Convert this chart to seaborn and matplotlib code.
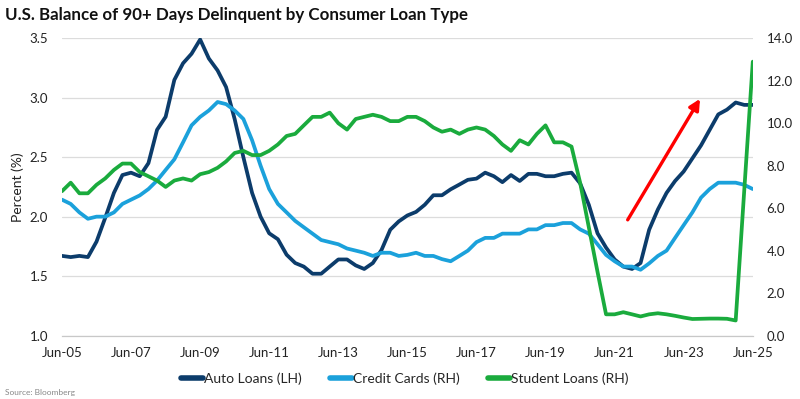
import pandas as pd
import matplotlib.pyplot as plt
import matplotlib.dates as mdates
from matplotlib.lines import Line2D
import seaborn as sns

# 90+ days delinquent balance, quarterly from Jun-05
# auto loans on the left scale, cards and student loans on the right scale
auto_loans = [1.67, 1.66, 1.67, 1.66, 1.79, 1.99, 2.20, 2.35, 2.37, 2.34,
              2.45, 2.73, 2.84, 3.15, 3.29, 3.37, 3.49, 3.33, 3.23, 3.09,
              2.82, 2.50, 2.20, 2.00, 1.86, 1.81, 1.68, 1.61, 1.58, 1.52,
              1.52, 1.58, 1.64, 1.64, 1.59, 1.56, 1.61, 1.72, 1.89, 1.96,
              2.01, 2.04, 2.10, 2.18, 2.18, 2.23, 2.27, 2.31, 2.32, 2.37,
              2.34, 2.29, 2.35, 2.30, 2.36, 2.36, 2.34, 2.34, 2.36, 2.37,
              2.28, 2.10, 1.86, 1.74, 1.64, 1.58, 1.56, 1.61, 1.89, 2.06,
              2.20, 2.30, 2.38, 2.49, 2.60, 2.73, 2.86, 2.90, 2.96, 2.94,
              2.94]
credit_cards = [6.4, 6.2, 5.8, 5.5, 5.6, 5.6, 5.8, 6.2, 6.4, 6.6,
                6.9, 7.3, 7.8, 8.3, 9.1, 9.9, 10.3, 10.6, 11.0, 10.9,
                10.6, 10.2, 9.2, 8.0, 6.9, 6.2, 5.8, 5.4, 5.1, 4.8,
                4.5, 4.4, 4.3, 4.1, 4.0, 3.9, 3.75, 3.9, 3.9, 3.75,
                3.8, 3.9, 3.75, 3.75, 3.6, 3.5, 3.75, 4.0, 4.4, 4.6,
                4.6, 4.8, 4.8, 4.8, 5.0, 5.0, 5.2, 5.2, 5.3, 5.3,
                5.0, 4.8, 4.3, 3.8, 3.5, 3.25, 3.25, 3.1, 3.4, 3.75,
                4.0, 4.6, 5.2, 5.8, 6.5, 6.9, 7.2, 7.2, 7.2, 7.1,
                6.9]
student_loans = [6.8, 7.2, 6.7, 6.7, 7.1, 7.4, 7.8, 8.1, 8.1, 7.7,
                 7.5, 7.3, 7.0, 7.3, 7.4, 7.3, 7.6, 7.7, 7.9, 8.2,
                 8.6, 8.7, 8.5, 8.5, 8.7, 9.0, 9.4, 9.5, 9.9, 10.3,
                 10.3, 10.5, 10.0, 9.7, 10.2, 10.3, 10.4, 10.3, 10.1, 10.1,
                 10.3, 10.3, 10.1, 9.8, 9.6, 9.7, 9.5, 9.7, 9.8, 9.7,
                 9.4, 9.0, 8.7, 9.2, 9.0, 9.5, 9.9, 9.1, 9.1, 8.9,
                 7.2, 5.1, 3.0, 1.0, 1.0, 1.1, 1.0, 0.9, 1.0, 1.05,
                 1.0, 0.93, 0.85, 0.78, 0.79, 0.8, 0.8, 0.79, 0.71, 6.8,
                 12.9]
tick_labels = ['Jun-05', 'Jun-07', 'Jun-09', 'Jun-11', 'Jun-13', 'Jun-15',
               'Jun-17', 'Jun-19', 'Jun-21', 'Jun-23', 'Jun-25']

quarters = pd.date_range('2005-06-30', periods=len(auto_loans), freq='QE')
df = pd.DataFrame({'date': quarters, 'auto': auto_loans,
                   'cards': credit_cards, 'student': student_loans})

navy = '#0c3c6b'
blue = '#1ba1db'
green = '#1aab3d'

sns.set_style('white')
plt.rcParams['font.family'] = ['Lato', 'DejaVu Sans']

fig, ax = plt.subplots(figsize=(8, 3.99), dpi=100)
fig.subplots_adjust(left=0.0775, right=0.941, top=0.904, bottom=0.159)
ax2 = ax.twinx()

sns.lineplot(data=df, x='date', y='auto', ax=ax, color=navy, lw=2.7)
sns.lineplot(data=df, x='date', y='cards', ax=ax2, color=blue, lw=2.7)
sns.lineplot(data=df, x='date', y='student', ax=ax2, color=green, lw=2.7)

# axes
ax.set_ylim(1.0, 3.5)
ax.set_yticks([1.0, 1.5, 2.0, 2.5, 3.0, 3.5])
ax.set_yticklabels(['%.1f' % v for v in ax.get_yticks()])
ax2.set_ylim(0, 14)
ax2.set_yticks(range(0, 15, 2))
ax2.set_yticklabels(['%.1f' % v for v in ax2.get_yticks()])
ax.set_xlim(quarters[0], quarters[-1])
ax.set_xticks(quarters[::8])
ax.set_xticklabels(tick_labels)
ax.set_xlabel('')
ax2.set_ylabel('')
ax.set_ylabel('Percent (%)', fontsize=10, color='#222222')

ax.yaxis.grid(True, color='#dcdcdc', lw=0.9)
ax.set_axisbelow(True)
for a in (ax, ax2):
    for s in ('top', 'left', 'right'):
        a.spines[s].set_visible(False)
    a.spines['bottom'].set_color('#c8c8c8')
    a.tick_params(axis='y', length=0, labelsize=9.5, labelcolor='#222222', pad=10)
ax.tick_params(axis='x', length=5, color='#c8c8c8', labelsize=9.5,
               labelcolor='#222222', pad=3)

# red trend arrow
ax2.annotate('', xy=(mdates.date2num(pd.Timestamp('2023-12-20')), 11.15),
             xytext=(mdates.date2num(pd.Timestamp('2021-11-15')), 5.45),
             arrowprops=dict(arrowstyle='-|>', color='#ff0000', lw=2.4,
                             mutation_scale=16, shrinkA=0, shrinkB=0))

fig.text(0.006, 0.962, 'U.S. Balance of 90+ Days Delinquent by Consumer Loan Type',
         fontsize=12.2, fontweight='bold', va='center', ha='left', color='#111111')
fig.text(0.006, 0.016, 'Source: Bloomberg', fontsize=6, color='#888888',
         va='center', ha='left')

handles = [Line2D([], [], color=navy, lw=4),
           Line2D([], [], color=blue, lw=4),
           Line2D([], [], color=green, lw=4)]
fig.legend(handles, ['Auto Loans (LH)', 'Credit Cards (RH)', 'Student Loans (RH)'],
           loc='center', bbox_to_anchor=(0.506, 0.05), ncol=3, frameon=False,
           fontsize=10, handlelength=1.6, handletextpad=0.1, columnspacing=2.0)

plt.savefig('out.png', dpi=100)
